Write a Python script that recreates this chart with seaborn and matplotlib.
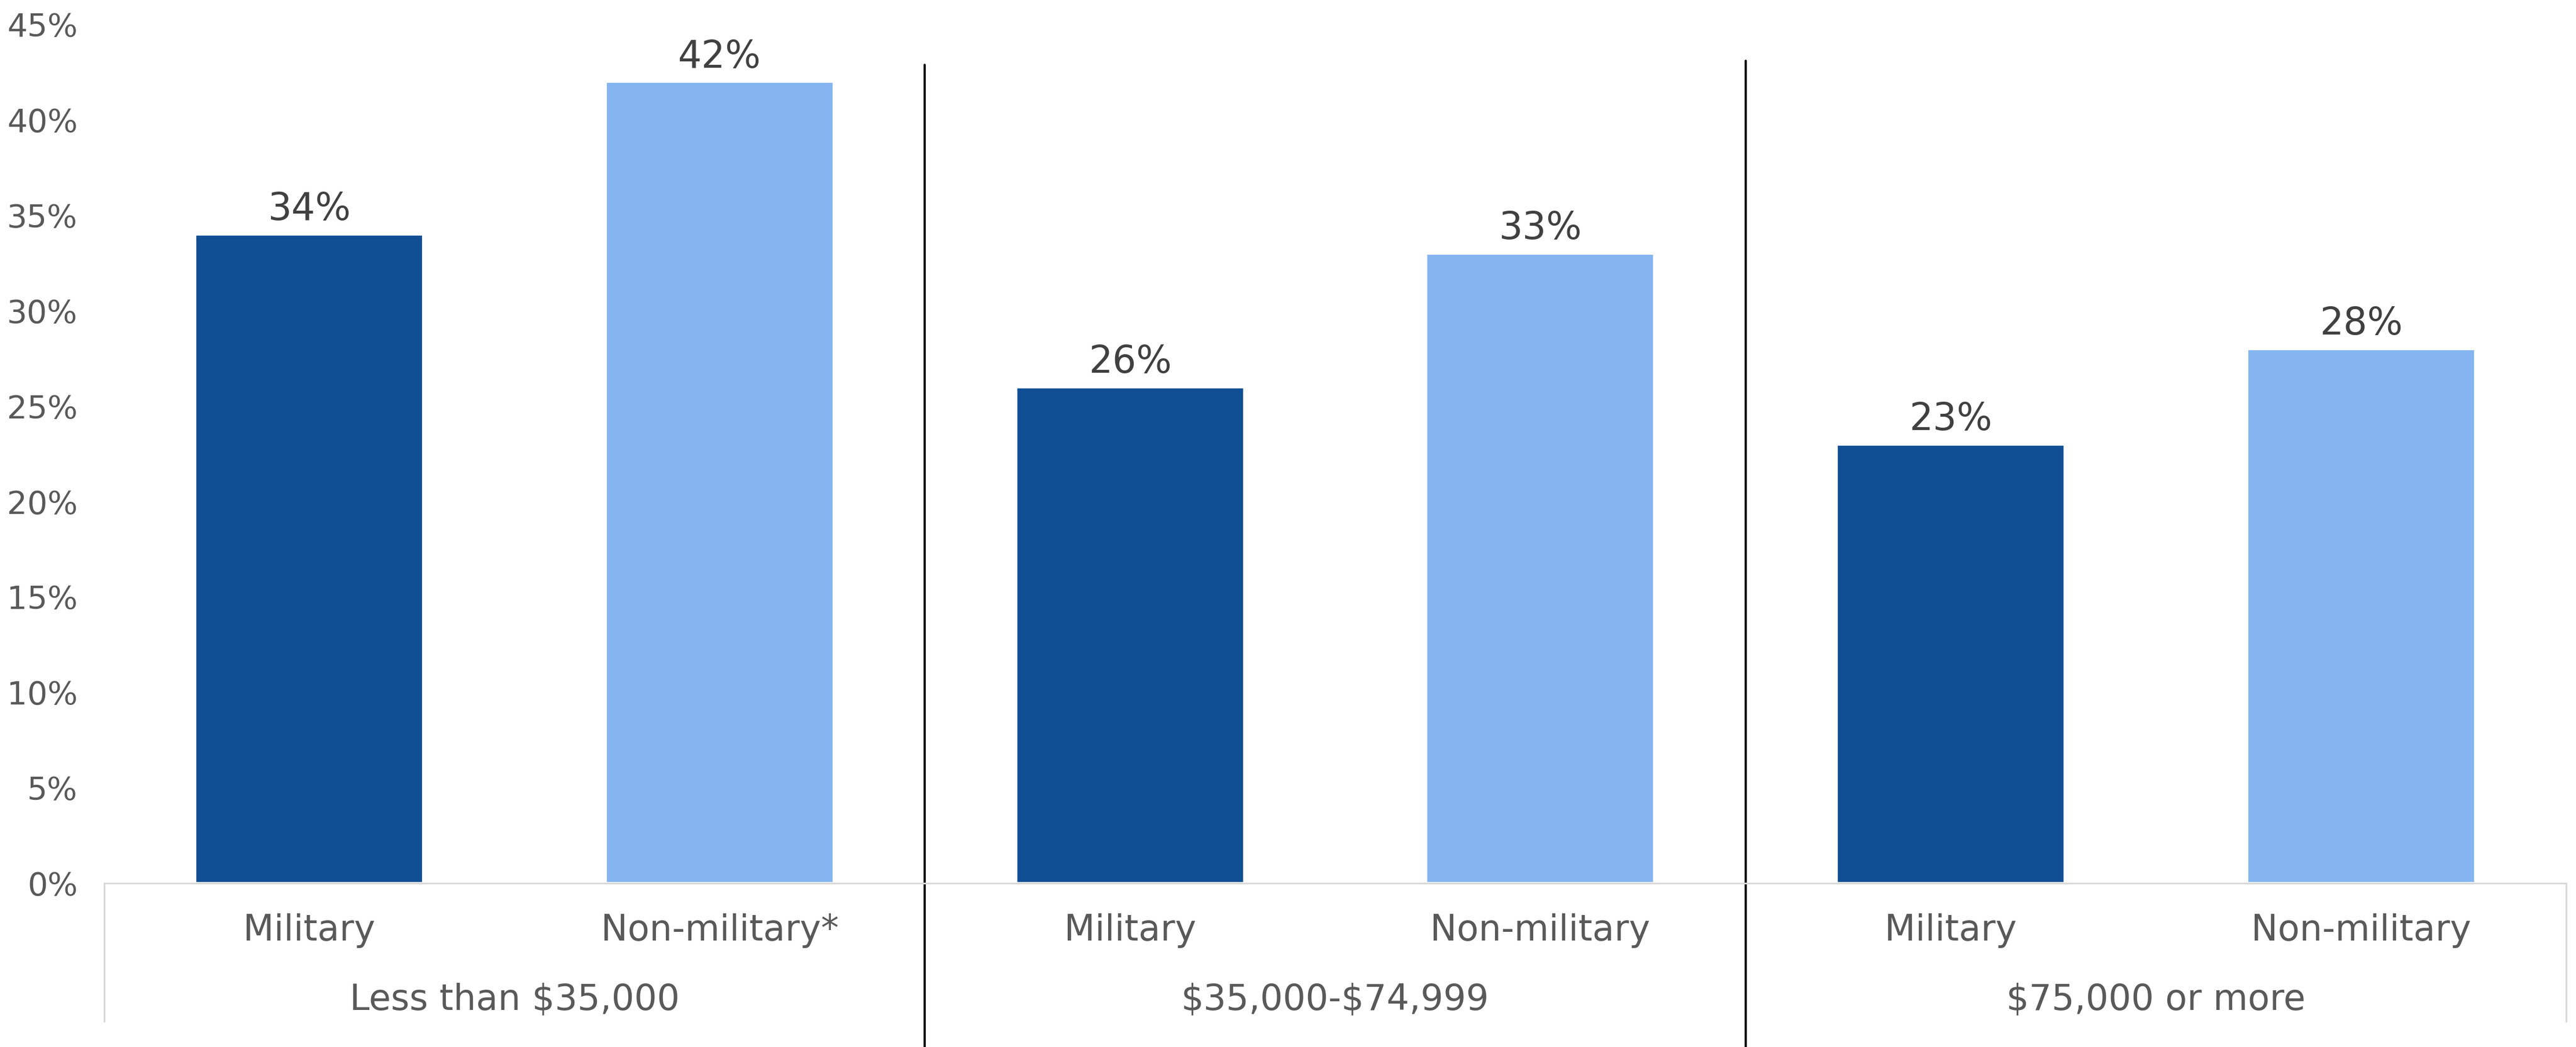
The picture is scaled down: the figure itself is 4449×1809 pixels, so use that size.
import matplotlib
matplotlib.use("Agg")
import matplotlib.pyplot as plt
from matplotlib.lines import Line2D
import matplotlib.transforms as mtransforms
import seaborn as sns
import pandas as pd

# Income groups and the two population types within each
groups = ["Less than $35,000", "$35,000-$74,999", "$75,000 or more"]
kinds = ["Military", "Non-military"]
bar_labels = ["Military", "Non-military*", "Military", "Non-military", "Military", "Non-military"]
values = [34, 42, 26, 33, 23, 28]
y_ticks = [0, 5, 10, 15, 20, 25, 30, 35, 40, 45]

DARK = "#114F94"
LIGHT = "#84B5F0"
TEXT = "#595959"
GRID = "#D9D9D9"

sns.set_theme(style="white")
plt.rcParams["font.family"] = ["DejaVu Sans"]
plt.rcParams["text.parse_math"] = False

W, H, DPI = 4449, 1809, 300
fig = plt.figure(figsize=(W / DPI, H / DPI), dpi=DPI)

left_px, right_px, zero_px, top_px = 180, 4432, 1526, 42
ax = fig.add_axes([left_px / W, (H - zero_px) / H,
                   (right_px - left_px) / W, (zero_px - top_px) / H])

df = pd.DataFrame({
    "slot": list(range(len(values))),
    "kind": [kinds[i % 2] for i in range(len(values))],
    "value": values,
})

sns.barplot(data=df, x="slot", y="value", hue="kind", dodge=False,
            palette={"Military": DARK, "Non-military": LIGHT},
            width=0.556, saturation=1, legend=False, ax=ax)

ax.set_xlim(-0.5, len(values) - 0.5)
ax.set_ylim(0, 45)
ax.set_yticks(y_ticks)
ax.set_yticklabels([f"{t}%" for t in y_ticks])
ax.tick_params(axis="y", length=0, pad=11, labelsize=13.2, labelcolor=TEXT)
ax.set_xticks([])
ax.set_xlabel("")
ax.set_ylabel("")

for side in ["left", "right", "top"]:
    ax.spines[side].set_visible(False)
ax.spines["bottom"].set_color(GRID)
ax.spines["bottom"].set_linewidth(0.7)

# Value labels above the bars
for i, v in enumerate(values):
    ax.annotate(f"{v}%", (i, v), xytext=(0, 2.5), textcoords="offset points",
                ha="center", va="bottom", fontsize=15.5, color="#404040")

trans = mtransforms.blended_transform_factory(ax.transData, ax.transAxes)
axh = zero_px - top_px

# Category labels and group labels beneath the axis
for i, lab in enumerate(bar_labels):
    ax.text(i, -(1608 - zero_px) / axh, lab, transform=trans, ha="center",
            va="center", fontsize=14.8, color=TEXT)
for g, name in enumerate(groups):
    ax.text(2 * g + 0.5, -(1727 - zero_px) / axh, name, transform=trans,
            ha="center", va="center", fontsize=14.8, color=TEXT)

# Light frame around the label area
box_bottom = -(1765 - zero_px) / axh
for xb in [-0.5, len(values) - 0.5]:
    ax.add_line(Line2D([xb, xb], [0, box_bottom], transform=trans,
                       color=GRID, lw=0.7, clip_on=False))

# Black separators between income groups
for xs, ytop in [(1.5, (zero_px - 112) / axh), (3.5, (zero_px - 105) / axh)]:
    ax.add_line(Line2D([xs, xs], [ytop, -(H - zero_px + 5) / axh],
                       transform=trans, color="black", lw=0.9, clip_on=False))

fig.savefig("out.png", dpi=DPI, facecolor="white")
